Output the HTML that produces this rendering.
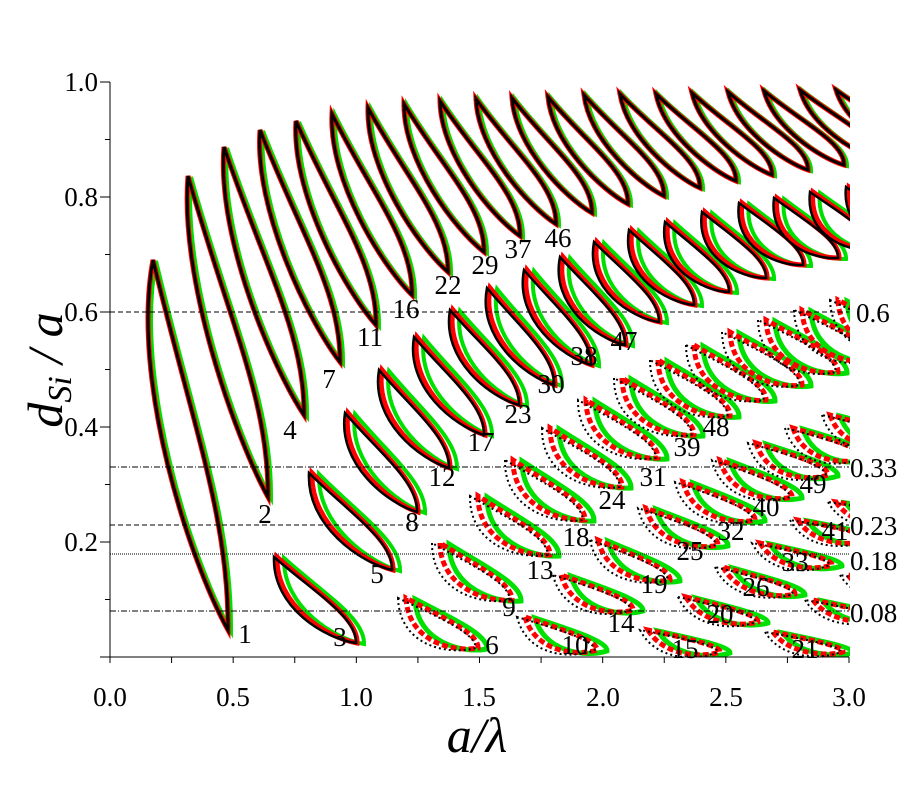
<!DOCTYPE html>
<html><head><meta charset="utf-8"><style>
html,body{margin:0;padding:0;background:#fff;}
svg{display:block;font-family:"Liberation Serif",serif;}
</style></head><body>
<svg id="s" width="900" height="800" xmlns="http://www.w3.org/2000/svg">
<defs><clipPath id="cp"><rect x="110" y="70" width="740" height="587"/></clipPath></defs>
<g id="loops" clip-path="url(#cp)"></g>
<g stroke="#000" stroke-width="1" fill="none">
<line x1="110" y1="312" x2="849" y2="312" stroke-dasharray="5 3"/>
<line x1="110" y1="467" x2="849" y2="467" stroke-dasharray="6 2 1 2"/>
<line x1="110" y1="525" x2="849" y2="525" stroke-dasharray="5 3"/>
<line x1="110" y1="554" x2="849" y2="554" stroke-dasharray="1 1"/>
<line x1="110" y1="611" x2="849" y2="611" stroke-dasharray="6 2 1 2"/>
<line x1="110" y1="82" x2="110" y2="657"/>
<line x1="110" y1="657" x2="849" y2="657"/>
</g>
<g id="ticks" stroke="#000" stroke-width="1"></g>
<g font-size="27" text-anchor="end">
<text x="98" y="91">1.0</text><text x="98" y="206">0.8</text><text x="98" y="321">0.6</text><text x="98" y="436">0.4</text><text x="98" y="551">0.2</text>
</g>
<g font-size="27" text-anchor="middle">
<text x="110" y="706">0.0</text><text x="233" y="706">0.5</text><text x="356" y="706">1.0</text><text x="479" y="706">1.5</text><text x="603" y="706">2.0</text><text x="726" y="706">2.5</text><text x="849" y="706">3.0</text>
</g>
<g font-size="27">
<text x="856" y="322">0.6</text><text x="850" y="477">0.33</text><text x="850" y="535">0.23</text><text x="850" y="570">0.18</text><text x="850" y="622">0.08</text>
</g>
<text x="477" y="752" font-size="50" font-style="italic" text-anchor="middle">a/λ</text>
<text transform="translate(62,370) rotate(-90)" font-size="50" font-style="italic" text-anchor="middle">d<tspan font-size="34" dy="9">Si</tspan><tspan dy="-9"> / a</tspan></text>
<g id="labels" font-size="27" text-anchor="middle"></g>
</svg>
<script>
var NS="http://www.w3.org/2000/svg";
function el(p,t,a){var e=document.createElementNS(NS,t);for(var k in a)e.setAttribute(k,a[k]);p.appendChild(e);return e;}
var tk=document.getElementById('ticks');
for(var i=0;i<=12;i++){var x=110+i*739/12;el(tk,'line',{x1:x,y1:657,x2:x,y2:663});}
for(var i=0;i<=10;i++){var y=657-i*57.5;el(tk,'line',{x1:i%2?105:100,y1:y,x2:110,y2:y});}
function path(T,B,w){var dx=B[0]-T[0],dy=B[1]-T[1],L=Math.hypot(dx,dy),nx=-dy/L,ny=dx/L;
function p(a,b){return (T[0]+a*dx+b*nx*w).toFixed(1)+","+(T[1]+a*dy+b*ny*w).toFixed(1);}
var c3=(B[0]+1).toFixed(1)+","+(B[1]-0.3*dy).toFixed(1);
return "M"+T[0]+","+T[1]+" C"+p(0.3,1.15)+" "+p(0.8,0.6)+" "+B[0]+","+B[1]+" C"+c3+" "+p(0.45,-0.15)+" "+T[0]+","+T[1]+"Z";}
var g=document.getElementById('loops');
function row(tx,ty,bx,by,w,gd,bd,sparse){
 for(var i=0;i<tx.length;i++){var T=[tx[i],ty[i]],B=[bx[i],by[i]],W=w[i];
  el(g,'path',{d:path(T,B,W),transform:"translate("+gd+",1)",fill:"none",stroke:"#00e000","stroke-width":sparse?5:4});
  el(g,'path',{d:path(T,B,W),fill:"none",stroke:"#f00","stroke-width":5,"stroke-dasharray":sparse?"6 3":"none"});
  el(g,'path',{d:path([T[0]+bd,T[1]],[B[0]+bd*0.3,B[1]],W+(bd<0?-bd*0.6:0)),fill:"none",stroke:"#000","stroke-width":sparse?2:(bd<0?2.5:3),"stroke-dasharray":sparse?"2 3":"none"});
 }}
var ax=[153,188,224,260,296,332,368,404,440,476,512,548,584,620,656,692,728,764,800,836];
var ay=[260,176,147,130,121,114,108,104,101,99,98,97,95,94,94,93,92,91,90,90];
var aby=[630,497,415,362,325,295,272,252,236,224,213,204,196,188,181,175,170,165,160,156];
var abx=ax.map(function(v,i){return i==0?228:v+80;});
var aw=ax.map(function(v,i){return i==0?40:Math.max(18,30-i*0.8);});
row(ax,ay,abx,aby,aw,3,0,false);
var bx=[277,312,348,382,417,453,490,527,563,597,632,668,705,742,777,813,849];
var by=[557,473,413,370,337,310,288,270,257,242,230,222,212,203,198,192,187];
var bh=[86,97,99,98,98,95,97,95,88,80,75,70,66,62,60,58,56];
var bdx=[80,81,70,68,68,67,65,65,63,63,63,62,62,62,62,62,62];
row(bx,by,bx.map(function(v,i){return v+bdx[i];}),by.map(function(v,i){return v+bh[i];}),bx.map(function(){return 30;}),7,-3,false);
var cx=[398,432,470,505,542,578,614,650,686,722,758,794,830];
var cy=[598,543,496,460,428,400,378,360,345,332,320,310,300];
var ch=[50,57,59,60,59,58,57,56,55,53,52,51,50];
row(cx.map(function(v){return v+8;}),cy,cx.map(function(v){return v+80;}),cy.map(function(v,i){return v+ch[i];}),cx.map(function(){return 30;}),9,-8,true);
var dx=[517,553,590,638,675,712,748,785,822];
var dy=[617,575,540,508,482,460,443,428,415];
var dh=[33,35,40,37,38,37,32,30,28];
row(dx.map(function(v){return v+8;}),dy,dx.map(function(v){return v+80;}),dy.map(function(v,i){return v+dh[i];}),dx.map(function(){return 24;}),10,-8,true);
var ex=[640,678,715,752,790,828],ey=[630,597,567,543,520,502],eh=[22,25,27,22,20,18];
row(ex.map(function(v){return v+8;}),ey,ex.map(function(v){return v+80;}),ey.map(function(v,i){return v+eh[i];}),ex.map(function(){return 18;}),10,-8,true);
var fx=[765,805,840],fy=[632,600,575];
row(fx.map(function(v){return v+8;}),fy,fx.map(function(v){return v+78;}),fy.map(function(v){return v+20;}),fx.map(function(){return 15;}),10,-8,true);
var L=[[1,245,643],[2,265,523],[3,340,646],[4,290,439],[5,377,583],[6,492,654],[7,329,388],[8,412,531],[9,509,616],[10,575,654],[11,370,346],[12,442,486],[13,540,579],[14,621,632],[15,685,658],[16,406,318],[17,481,451],[18,576,546],[19,654,593],[20,720,623],[21,805,658],[22,448,294],[23,518,423],[24,612,509],[25,690,560],[26,756,596],[29,485,274],[30,551,393],[31,653,486],[32,731,540],[33,795,571],[37,518,258],[38,584,365],[39,687,456],[40,766,516],[41,835,540],[46,558,247],[47,624,350],[48,716,436],[49,813,493]];
var lg=document.getElementById('labels');
L.forEach(function(a){el(lg,'text',{x:a[1],y:a[2]}).textContent=a[0];});
</script>
</body></html>
